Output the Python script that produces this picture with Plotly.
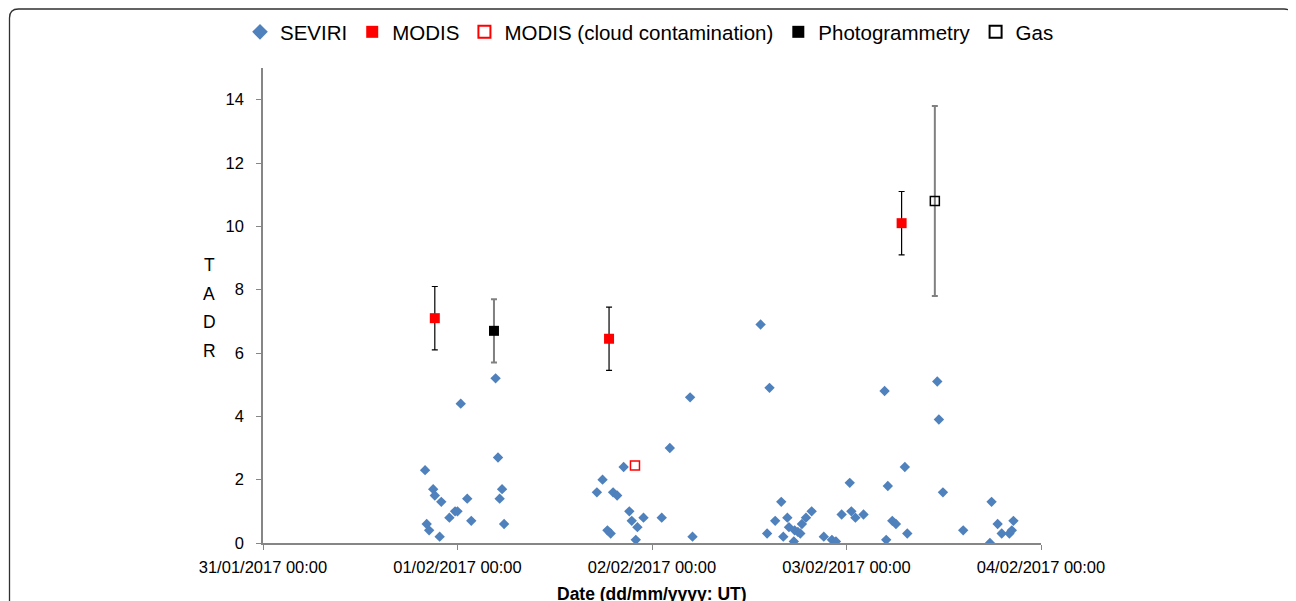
import plotly.graph_objects as go

# ---------------- data ----------------
seviri_time = [
    "2017-01-31 20:00", "2017-01-31 20:12", "2017-01-31 20:30", "2017-01-31 21:00",
    "2017-01-31 21:12", "2017-01-31 21:48", "2017-01-31 22:00", "2017-01-31 23:00",
    "2017-01-31 23:42", "2017-02-01 00:00", "2017-02-01 00:24", "2017-02-01 01:12",
    "2017-02-01 01:42", "2017-02-01 04:42", "2017-02-01 05:00", "2017-02-01 05:12",
    "2017-02-01 05:30", "2017-02-01 05:45",
    "2017-02-01 17:12", "2017-02-01 17:54", "2017-02-01 18:30", "2017-02-01 18:54",
    "2017-02-01 19:12", "2017-02-01 19:42", "2017-02-01 20:30", "2017-02-01 21:12",
    "2017-02-01 21:30", "2017-02-01 22:00", "2017-02-01 22:12", "2017-02-01 22:57",
    "2017-02-02 01:12", "2017-02-02 02:12", "2017-02-02 04:42", "2017-02-02 05:00",
    "2017-02-02 13:24", "2017-02-02 14:12", "2017-02-02 14:30", "2017-02-02 15:12",
    "2017-02-02 15:57", "2017-02-02 16:12", "2017-02-02 16:42", "2017-02-02 16:54",
    "2017-02-02 17:30", "2017-02-02 17:36", "2017-02-02 18:00", "2017-02-02 18:18",
    "2017-02-02 18:30", "2017-02-02 19:00", "2017-02-02 19:42", "2017-02-02 21:12",
    "2017-02-02 22:12", "2017-02-02 22:42", "2017-02-02 23:24", "2017-02-03 00:24",
    "2017-02-03 00:36", "2017-02-03 01:06", "2017-02-03 02:06", "2017-02-03 04:42",
    "2017-02-03 04:54", "2017-02-03 05:06", "2017-02-03 05:39", "2017-02-03 06:06",
    "2017-02-03 07:12", "2017-02-03 07:30", "2017-02-03 11:12", "2017-02-03 11:24",
    "2017-02-03 11:54", "2017-02-03 14:24", "2017-02-03 17:42", "2017-02-03 17:54",
    "2017-02-03 18:39", "2017-02-03 19:09", "2017-02-03 20:06", "2017-02-03 20:24",
    "2017-02-03 20:36",
]
seviri_tadr = [
    2.3, 0.6, 0.4, 1.7,
    1.5, 0.2, 1.3, 0.8,
    1.0, 1.0, 4.4, 1.4,
    0.7, 5.2, 2.7, 1.4,
    1.7, 0.6,
    1.6, 2.0, 0.4, 0.3,
    1.6, 1.5, 2.4, 1.0,
    0.7, 0.1, 0.5, 0.8,
    0.8, 3.0, 4.6, 0.2,
    6.9, 0.3, 4.9, 0.7,
    1.3, 0.2, 0.8, 0.5,
    0.05, 0.4, 0.35, 0.3,
    0.6, 0.8, 1.0, 0.2,
    0.1, 0.05, 0.9, 1.9,
    1.0, 0.8, 0.9, 4.8,
    0.1, 1.8, 0.7, 0.6,
    2.4, 0.3, 5.1, 3.9,
    1.6, 0.4, 0.0, 1.3,
    0.6, 0.3, 0.3, 0.4,
    0.7,
]

modis_time = ["2017-01-31 21:12", "2017-02-01 18:42", "2017-02-03 06:48"]
modis_tadr = [7.1, 6.45, 10.1]
modis_err = [1.0, 1.0, 1.0]

cloud_time = ["2017-02-01 21:54"]
cloud_tadr = [2.45]

photo_time = ["2017-02-01 04:30"]
photo_tadr = [6.7]
photo_err = [1.0]

gas_time = ["2017-02-03 10:54"]
gas_tadr = [10.8]
gas_err = [3.0]

x_ticks = ["2017-01-31", "2017-02-01", "2017-02-02", "2017-02-03", "2017-02-04"]
x_ticktext = ["31/01/2017 00:00", "01/02/2017 00:00", "02/02/2017 00:00",
              "03/02/2017 00:00", "04/02/2017 00:00"]
y_ticks = [0, 2, 4, 6, 8, 10, 12, 14]

# ---------------- layout geometry ----------------
# the page body has an 8px margin, so the figure is drawn 8px smaller and
# every target screen position is shifted by that offset
OFF = 8
W, H = 1296 - OFF, 601 - OFF
L, R, T, B = 263 - OFF, 1041 - OFF, 68 - OFF, 543 - OFF
PW, PH = R - L, B - T


def px2x(px):
    return (px - OFF - L) / PW


def py2y(py):
    return (B - (py - OFF)) / PH


FONT = "Liberation Sans"
AXIS_COLOR = "#868686"

fig = go.Figure()

fig.add_trace(go.Scatter(
    x=seviri_time, y=seviri_tadr, mode="markers", name="SEVIRI",
    marker=dict(symbol="diamond", size=8, color="#4F81BD"),
))
fig.add_trace(go.Scatter(
    x=modis_time, y=modis_tadr, mode="markers", name="MODIS",
    marker=dict(symbol="square", size=10, color="#FF0000"),
    error_y=dict(type="data", array=modis_err, visible=True,
                 color="#000000", thickness=1.2, width=3),
))
fig.add_trace(go.Scatter(
    x=cloud_time, y=cloud_tadr, mode="markers", name="MODIS (cloud contamination)",
    marker=dict(symbol="square-open", size=9, color="#FF0000", line=dict(width=1.5)),
))
fig.add_trace(go.Scatter(
    x=photo_time, y=photo_tadr, mode="markers", name="Photogrammetry",
    marker=dict(symbol="square", size=10, color="#000000"),
    error_y=dict(type="data", array=photo_err, visible=True,
                 color="#808080", thickness=2, width=3),
))
fig.add_trace(go.Scatter(
    x=gas_time, y=gas_tadr, mode="markers", name="Gas",
    marker=dict(symbol="square-open", size=9, color="#000000", line=dict(width=1.5)),
    error_y=dict(type="data", array=gas_err, visible=True,
                 color="#808080", thickness=2, width=3),
))

# rounded chart-area border (Excel style), bottom edge beyond the view
x0, x1 = px2x(9.5), px2x(1293)
y0, y1 = py2y(9), py2y(640)
rx, ry = 9 / PW, 9 / PH
path = (f"M {x0},{y1} L {x0},{y0 - ry} Q {x0},{y0} {x0 + rx},{y0} "
        f"L {x1 - rx},{y0} Q {x1},{y0} {x1},{y0 - ry} L {x1},{y1}")
fig.add_shape(type="path", path=path, xref="paper", yref="paper",
              line=dict(color="#303030", width=1.3), layer="above")

# stacked y-axis title
for letter, py in zip(["T", "A", "D", "R"], [265, 293.5, 322, 350.5]):
    fig.add_annotation(text=letter, x=px2x(209), y=py2y(py), xref="paper", yref="paper",
                       showarrow=False, xanchor="center", yanchor="middle",
                       font=dict(family=FONT, size=17.5, color="#000000"))

# x-axis title
fig.add_annotation(text="<b>Date (dd/mm/yyyy: UT)</b>", x=px2x(652), y=py2y(594),
                   xref="paper", yref="paper", showarrow=False,
                   xanchor="center", yanchor="middle",
                   font=dict(family=FONT, size=17.5, color="#000000"))

fig.update_layout(
    width=W, height=H,
    margin=dict(l=L, r=W - R, t=T, b=H - B, pad=0, autoexpand=False),
    paper_bgcolor="white", plot_bgcolor="white",
    font=dict(family=FONT, size=16, color="#000000"),
    showlegend=True,
    legend=dict(orientation="h", xref="paper", yref="paper",
                x=px2x(240), xanchor="left",
                y=py2y(32), yanchor="middle",
                font=dict(family=FONT, size=20.5, color="#000000"),
                itemsizing="constant", bgcolor="rgba(0,0,0,0)"),
    xaxis=dict(
        type="date", range=["2017-01-31", "2017-02-04"],
        tickvals=x_ticks, ticktext=x_ticktext,
        showgrid=False, zeroline=False,
        showline=True, linecolor=AXIS_COLOR, linewidth=1.5,
        ticks="outside", ticklen=5, tickcolor=AXIS_COLOR,
        ticklabelstandoff=3,
        tickfont=dict(family=FONT, size=16.5, color="#000000"),
    ),
    yaxis=dict(
        range=[0, 15], tickvals=y_ticks,
        showgrid=False, zeroline=False,
        showline=True, linecolor=AXIS_COLOR, linewidth=1.5,
        ticks="outside", ticklen=5, tickcolor=AXIS_COLOR,
        ticklabelstandoff=9,
        tickfont=dict(family=FONT, size=16.5, color="#000000"),
    ),
)

fig.write_html("out.html")
